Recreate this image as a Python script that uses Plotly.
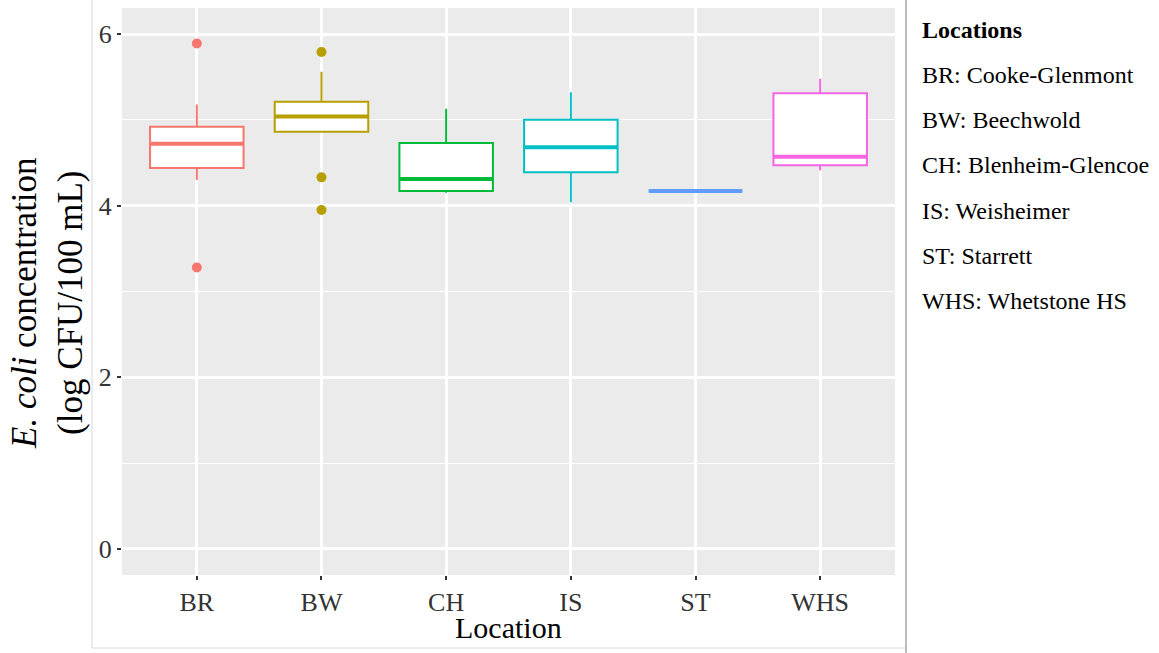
import plotly.graph_objects as go

# ---- data ----
locations = ["BR", "BW", "CH", "IS", "ST", "WHS"]
colors = ["#F8766D", "#B79F00", "#00BA38", "#00BFC4", "#619CFF", "#F564E3"]
q1 = [4.44, 4.86, 4.17, 4.39, 4.17, 4.47]
median = [4.72, 5.04, 4.31, 4.68, 4.17, 4.57]
q3 = [4.92, 5.21, 4.73, 5.00, 4.17, 5.31]
lower_whisker = [4.30, 4.86, 4.15, 4.04, 4.17, 4.41]
upper_whisker = [5.18, 5.56, 5.13, 5.32, 4.17, 5.48]
outlier_loc = ["BR", "BR", "BW", "BW", "BW"]
outlier_val = [5.89, 3.28, 5.79, 4.33, 3.95]
legend_title = "Locations"
legend_lines = ["BR: Cooke-Glenmont", "BW: Beechwold", "CH: Blenheim-Glencoe",
                "IS: Weisheimer", "ST: Starrett", "WHS: Whetstone HS"]

W, H = 1159, 653
PANEL_L, PANEL_R, PANEL_T, PANEL_B = 122, 895, 8, 575   # page pixels
ML, MT = PANEL_L, PANEL_T
MR, MB = W - PANEL_R, H - PANEL_B
PW, PH = W - ML - MR, H - MT - MB
FONT = "Liberation Serif"
BOXW = 0.75


def px(x):
    return (x - PANEL_L) / PW


def py(y):
    return (PANEL_B - y) / PH


fig = go.Figure()
for i, loc in enumerate(locations):
    fig.add_trace(go.Box(
        x=[i], q1=[q1[i]], median=[median[i]], q3=[q3[i]],
        lowerfence=[lower_whisker[i]], upperfence=[upper_whisker[i]],
        width=BOXW, whiskerwidth=0, boxpoints=False,
        fillcolor="white", line=dict(color=colors[i], width=2),
        showlegend=False, name=loc))
    fig.add_trace(go.Scatter(
        x=[i - BOXW / 2, i + BOXW / 2], y=[median[i], median[i]],
        mode="lines", line=dict(color=colors[i], width=4),
        showlegend=False, hoverinfo="skip"))

idx = {loc: i for i, loc in enumerate(locations)}
fig.add_trace(go.Scatter(
    x=[idx[l] for l in outlier_loc], y=outlier_val, mode="markers",
    marker=dict(size=10, color=[colors[idx[l]] for l in outlier_loc]),
    showlegend=False))

annotations = [
    dict(text="<i>E. coli</i> concentration<br>(log CFU/100 mL)",
         textangle=-90, x=px(47), y=py(303), xref="paper", yref="paper",
         xanchor="center", yanchor="middle", showarrow=False,
         font=dict(family=FONT, size=35, color="black")),
    dict(text="Location", x=px(508.5), y=py(627), xref="paper", yref="paper",
         xanchor="center", yanchor="middle", showarrow=False,
         font=dict(family=FONT, size=30, color="black")),
    dict(text="<b>" + legend_title + "</b>", x=px(920), y=py(30),
         xref="paper", yref="paper", xanchor="left", yanchor="middle",
         showarrow=False, font=dict(family=FONT, size=24, color="black")),
]
for k, line in enumerate(legend_lines):
    annotations.append(dict(
        text=line, x=px(920), y=py(75 + 45.2 * k), xref="paper", yref="paper",
        xanchor="left", yanchor="middle", showarrow=False,
        font=dict(family=FONT, size=24, color="black")))

shapes = [
    dict(type="line", xref="paper", yref="paper", x0=px(92), x1=px(92),
         y0=py(0), y1=py(648), line=dict(color="#d8d8d8", width=1)),
    dict(type="line", xref="paper", yref="paper", x0=px(92), x1=px(906),
         y0=py(648), y1=py(648), line=dict(color="#dddddd", width=1)),
    dict(type="line", xref="paper", yref="paper", x0=px(906), x1=px(906),
         y0=py(0), y1=py(653), line=dict(color="#bdbdbd", width=2)),
]

fig.update_layout(
    width=W, height=H,
    margin=dict(l=ML, r=MR, t=MT, b=MB, pad=0),
    paper_bgcolor="white", plot_bgcolor="#EBEBEB",
    annotations=annotations, shapes=shapes,
    font=dict(family=FONT, color="#444444"),
)
fig.update_xaxes(
    range=[-0.6, 5.6], tickmode="array", tickvals=list(range(len(locations))),
    ticktext=locations, showgrid=True, gridcolor="white", gridwidth=2.5,
    zeroline=False, ticks="outside", ticklen=4, tickwidth=1.5, tickcolor="#333333",
    tickfont=dict(family=FONT, size=26, color="#333333"), showline=False)
fig.update_yaxes(
    range=[-0.303, 6.303], tickmode="array", tickvals=[0, 2, 4, 6],
    showgrid=True, gridcolor="white", gridwidth=2.5,
    minor=dict(tickvals=[1, 3, 5], showgrid=True, gridcolor="white", gridwidth=1.2, ticks=""),
    zeroline=False, ticks="outside", ticklen=4, tickwidth=1.5, tickcolor="#333333",
    tickfont=dict(family=FONT, size=26, color="#333333"), showline=False)

fig.write_html("out.html", config={"displayModeBar": False},
               post_script="document.body.style.margin='0px';document.body.style.overflow='hidden';")
